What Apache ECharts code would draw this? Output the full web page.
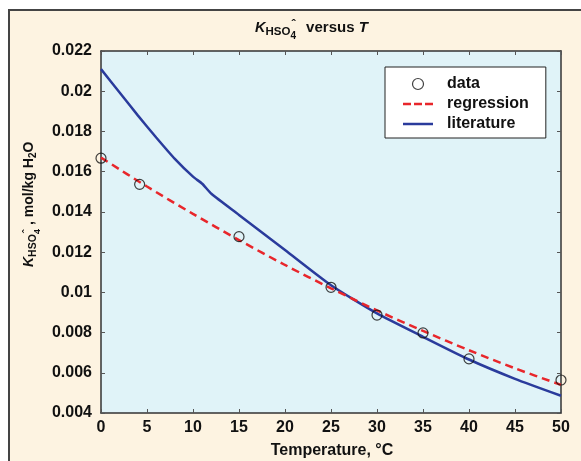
<!DOCTYPE html>
<html><head><meta charset="utf-8">
<script src="https://cdn.jsdelivr.net/npm/echarts@6/dist/echarts.min.js"></script>
<style>html,body{margin:0;padding:0;background:#fff}#c{width:581px;height:461px}</style>
</head><body><div id="c"></div>
<script>
// ---- data ----
const dataT = [0, 4.2, 15, 25, 30, 35, 40, 50];
const dataK = [0.01667, 0.01537, 0.01277, 0.01025, 0.00887, 0.00798, 0.00669, 0.00564];
const regT = [0, 5, 10, 15, 20, 25, 30, 35, 40, 45, 50];
const regK = [0.0167, 0.01526, 0.0139, 0.0126, 0.01136, 0.0102, 0.0091, 0.00808, 0.00712, 0.00622, 0.0054];
const litT = [0, 2, 4, 6, 8, 10, 11, 12, 15, 20, 25, 30, 35, 40, 45, 50];
const litK = [0.0211, 0.01995, 0.0188, 0.0177, 0.01665, 0.01575, 0.0154, 0.0149, 0.01385, 0.0121, 0.01035, 0.00895, 0.00779, 0.00666, 0.0057, 0.00486];
const xTicks = {min: 0, max: 50, interval: 5};
const yTicks = {min: 0.004, max: 0.022, interval: 0.002};
const seriesNames = ['data', 'regression', 'literature'];

const FONT = '"Liberation Sans", Arial, Helvetica, sans-serif';
const mctx = document.createElement('canvas').getContext('2d');
function fontStr(p){ return (p.italic ? 'italic ' : '') + 'bold ' + p.size + 'px ' + FONT; }
function measure(p){ mctx.font = fontStr(p); return mctx.measureText(p.t).width; }
function buildPieces(pieces, baseY){
  let x = 0; const out = []; let lastX = 0;
  pieces.forEach(p => {
    const w = measure(p);
    const px = p.overlay ? lastX + (p.dx || 0) : x + (p.dx || 0);
    out.push({type: 'text', x: px, y: baseY + (p.dy || 0) - 0.35 * p.size,
      style: {text: p.t, fontFamily: FONT, fontSize: p.size, fontWeight: 'bold',
        fontStyle: p.italic ? 'italic' : 'normal', fill: '#111', verticalAlign: 'middle', align: 'left'}});
    if (!p.overlay) { lastX = x; x += w + (p.gap || 0); }
  });
  return out;
}
const titlePieces = [
  {t: 'K', size: 14.5, italic: true},
  {t: 'HSO', size: 11.5, dy: 3},
  {t: '4', size: 10, dy: 7, gap: 6},
  {t: 'ˆ', size: 12, dy: -3, overlay: true, dx: 1},
  {t: ' versus ', size: 15},
  {t: 'T', size: 15, italic: true}
];
const yLabelPieces = [
  {t: 'K', size: 14, italic: true},
  {t: 'HSO', size: 10.5, dy: 3},
  {t: '4', size: 9.5, dy: 7},
  {t: 'ˆ', size: 11, dy: -3, overlay: true, dx: 1},
  {t: ' , mol/kg H', size: 14},
  {t: '2', size: 10, dy: 3},
  {t: 'O', size: 14}
];

const chart = echarts.init(document.getElementById('c'), null, {renderer: 'canvas'});
const fmtY = v => parseFloat(v.toFixed(3)).toString();
const axisCommon = {
  axisLine: {show: true, onZero: false, lineStyle: {color: '#333', width: 1.5}},
  axisTick: {show: true, inside: true, length: 4, lineStyle: {color: '#555', width: 1}},
  splitLine: {show: false}
};
chart.setOption({
  backgroundColor: '#ffffff',
  animation: false,
  graphic: [
    {type: 'rect', shape: {x: 9, y: 10, width: 600, height: 480}, z: -10,
      style: {fill: '#fdf3e1', stroke: '#444', lineWidth: 2}},
    {type: 'group', x: 255, y: 0, children: buildPieces(titlePieces, 33)},
    {type: 'group', x: 0, y: 267, rotation: Math.PI / 2, children: buildPieces(yLabelPieces, 34)},
    {type: 'text', x: 332, y: 451, style: {text: 'Temperature, °C', fontFamily: FONT, fontSize: 16,
      fontWeight: 'bold', fill: '#111', align: 'center', verticalAlign: 'middle'}}
  ],
  grid: {left: 101, right: 20, top: 51, bottom: 48, show: true, backgroundColor: '#e0f3f8', borderWidth: 0},
  legend: {
    left: 385, top: 67, orient: 'vertical', itemWidth: 30, itemHeight: 11, itemGap: 4,
    backgroundColor: '#ffffff', borderColor: '#222', borderWidth: 1, borderRadius: 0,
    padding: [9, 17, 6, 18],
    textStyle: {fontFamily: FONT, fontSize: 16, lineHeight: 14, fontWeight: 'bold', color: '#111', padding: [0, 0, 0, 9]},
    data: [
      {name: 'data', icon: 'circle', itemStyle: {color: 'rgba(0,0,0,0)', borderColor: '#111', borderWidth: 1.2}},
      {name: 'regression', icon: 'path://M0,0h8v2.5h-8z M11,0h8v2.5h-8z M22,0h8v2.5h-8z'},
      {name: 'literature', icon: 'path://M0,0h30v2.5h-30z'}
    ]
  },
  xAxis: [
    Object.assign({type: 'value', position: 'bottom', min: xTicks.min, max: xTicks.max, interval: xTicks.interval,
      axisLabel: {fontFamily: FONT, fontSize: 16, fontWeight: 'bold', color: '#111', margin: 7}}, axisCommon),
    Object.assign({type: 'value', position: 'top', min: xTicks.min, max: xTicks.max, interval: xTicks.interval,
      axisLabel: {show: false}}, axisCommon)
  ],
  yAxis: [
    Object.assign({type: 'value', position: 'left', min: yTicks.min, max: yTicks.max, interval: yTicks.interval,
      axisLabel: {fontFamily: FONT, fontSize: 16, fontWeight: 'bold', color: '#111', margin: 9, formatter: fmtY}}, axisCommon),
    Object.assign({type: 'value', position: 'right', min: yTicks.min, max: yTicks.max, interval: yTicks.interval,
      axisLabel: {show: false}}, axisCommon)
  ],
  series: [
    {name: seriesNames[2], type: 'line', data: litT.map((t, i) => [t, litK[i]]), symbol: 'none', smooth: 0.2,
      lineStyle: {color: '#2a3b9c', width: 2.5}, itemStyle: {color: '#2a3b9c'}, z: 3},
    {name: seriesNames[1], type: 'line', data: regT.map((t, i) => [t, regK[i]]), symbol: 'none', smooth: 0.3,
      lineStyle: {color: '#e8262b', width: 2.5, type: [8, 5]}, itemStyle: {color: '#e8262b'}, z: 4},
    {name: seriesNames[0], type: 'scatter', data: dataT.map((t, i) => [t, dataK[i]]), symbol: 'circle',
      symbolSize: 10, clip: false, itemStyle: {color: 'rgba(0,0,0,0)', borderColor: '#111', borderWidth: 1.2}, z: 5}
  ]
});
</script></body></html>
